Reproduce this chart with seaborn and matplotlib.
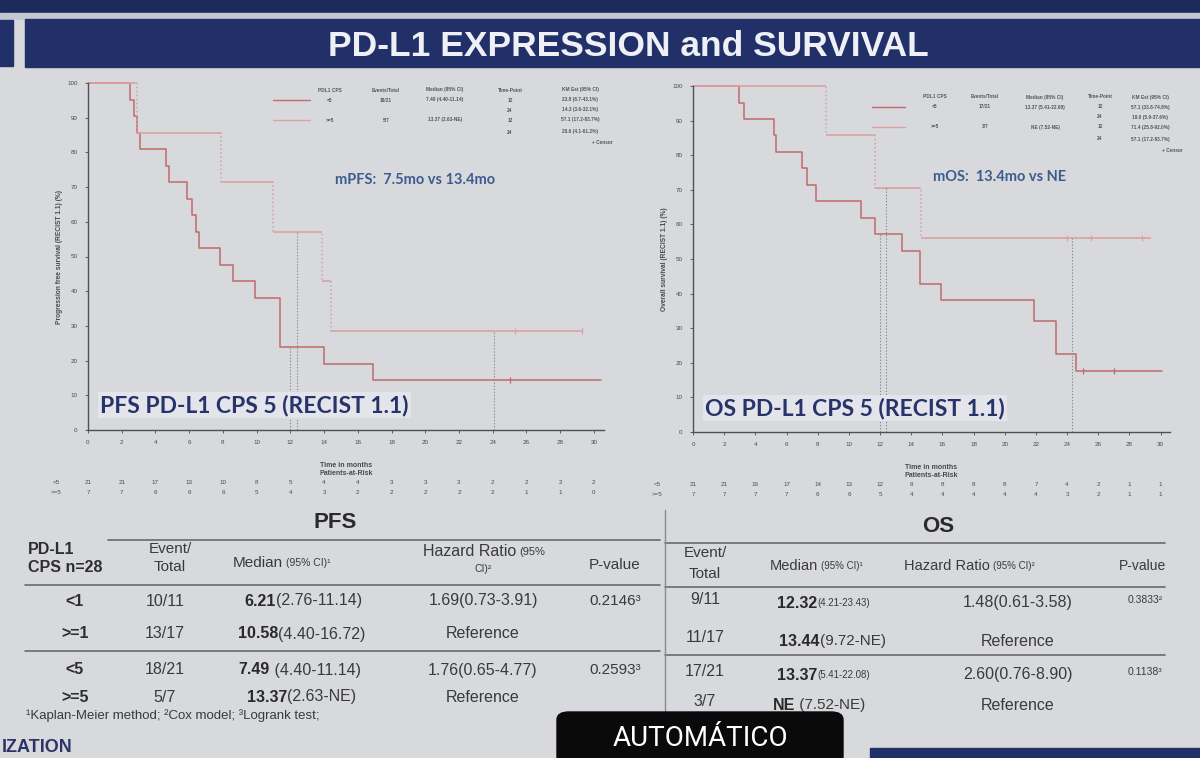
import numpy as np
import pandas as pd
import matplotlib
matplotlib.use("Agg")
import matplotlib.pyplot as plt
import seaborn as sns
from matplotlib.patches import Rectangle, FancyBboxPatch
from matplotlib.transforms import blended_transform_factory

W, H = 1200, 758

# --- Kaplan-Meier curves (months, % surviving) ---
pfs_lt5_t = [0, 2.5, 2.7, 2.9, 3.1, 4.6, 4.8, 5.9, 6.15, 6.4, 6.6, 7.8, 8.6, 9.9, 11.4, 14.0, 16.9, 30.4]
pfs_lt5_s = [100, 95.2, 90.5, 85.7, 80.9, 76.2, 71.4, 66.7, 61.9, 57.1, 52.4, 47.6, 42.9, 38.1, 23.8, 19.0, 14.3, 14.3]
pfs_ge5_t = [0, 2.9, 7.9, 11.0, 13.85, 14.4, 29.3]
pfs_ge5_s = [100, 85.7, 71.4, 57.1, 42.9, 28.6, 28.6]
pfs_lt5_cens = [25.0]
pfs_ge5_cens = [25.3, 29.3]

os_lt5_t = [0, 2.95, 3.3, 5.2, 5.35, 7.0, 7.3, 7.9, 10.8, 11.7, 13.4, 14.55, 15.9, 21.9, 23.3, 24.6, 30.1]
os_lt5_s = [100, 95.2, 90.5, 85.7, 80.9, 76.2, 71.4, 66.7, 61.9, 57.1, 52.4, 42.9, 38.1, 32.0, 22.5, 17.5, 17.5]
os_ge5_t = [0, 8.55, 11.65, 14.6, 29.4]
os_ge5_s = [100, 85.7, 70.5, 56.0, 56.0]
os_lt5_cens = [25.0, 27.0]
os_ge5_cens = [24.0, 25.5, 28.8]

# time-point guide lines (x, top)
pfs_ref_t = [12.0, 12.4, 24.1]
pfs_ref_top = [23.8, 57.1, 28.6]
os_ref_t = [12.0, 12.4, 24.3]
os_ref_top = [57.1, 70.5, 56.0]

# patients at risk
risk_times = list(range(0, 31, 2))
pfs_risk_lt5 = [21, 21, 17, 13, 10, 8, 5, 4, 4, 3, 3, 3, 2, 2, 2, 2]
pfs_risk_ge5 = [7, 7, 6, 6, 6, 5, 4, 3, 2, 2, 2, 2, 2, 1, 1, 0]
os_risk_lt5 = [21, 21, 19, 17, 14, 13, 12, 9, 8, 8, 8, 7, 4, 2, 1, 1]
os_risk_ge5 = [7, 7, 7, 7, 6, 6, 5, 4, 4, 4, 4, 4, 3, 2, 1, 1]

# legend boxes inside the plots
leg_head = ["PDL1 CPS", "Events/Total", "Median (95% CI)", "Time-Point", "KM Est (95% CI)"]
pfs_leg_rows = [["<5", "18/21", "7.49 (4.40-11.14)", "12", "23.8 (8.7-43.1%)"],
                ["", "", "", "24", "14.3 (3.6-32.1%)"],
                [">=5", "5/7", "13.37 (2.63-NE)", "12", "57.1 (17.2-83.7%)"],
                ["", "", "", "24", "28.6 (4.1-61.2%)"]]
os_leg_rows = [["<5", "17/21", "13.37 (5.41-22.08)", "12", "57.1 (33.8-74.8%)"],
               ["", "", "", "24", "19.0 (5.9-37.6%)"],
               [">=5", "3/7", "NE (7.52-NE)", "12", "71.4 (25.8-92.0%)"],
               ["", "", "", "24", "57.1 (17.2-83.7%)"]]

# summary table
groups = ["<1", ">=1", "<5", ">=5"]
pfs_events = ["10/11", "13/17", "18/21", "5/7"]
pfs_med = ["6.21", "10.58", "7.49", "13.37"]
pfs_ci = ["(2.76-11.14)", "(4.40-16.72)", " (4.40-11.14)", "(2.63-NE)"]
pfs_hr = ["1.69(0.73-3.91)", "Reference", "1.76(0.65-4.77)", "Reference"]
pfs_p = ["0.2146³", "", "0.2593³", ""]
os_events = ["9/11", "11/17", "17/21", "3/7"]
os_med = ["12.32", "13.44", "13.37", "NE"]
os_ci = ["(4.21-23.43)", "(9.72-NE)", "(5.41-22.08)", " (7.52-NE)"]
os_hr = ["1.48(0.61-3.58)", "Reference", "2.60(0.76-8.90)", "Reference"]
os_p = ["0.3833²", "", "0.1138³", ""]

# --- style ---
sns.set_style("ticks")
plt.rcParams["font.family"] = ["Liberation Sans", "DejaVu Sans"]

BG = "#d7d9dd"
NAVY = "#22306a"
C_LT5 = "#c06a68"
C_GE5 = "#dca2a0"
TXT = "#3a3a3a"

fig = plt.figure(figsize=(W / 100, H / 100), dpi=100, facecolor=BG)


def fx(x):
    return x / W


def fy(y):
    return 1 - y / H


def ftext(x, y, s, **kw):
    kw.setdefault("color", TXT)
    kw.setdefault("va", "center")
    fig.text(fx(x), fy(y), s, **kw)


# header bands
fig.patches.append(Rectangle((0, fy(13)), 1, 13 / H, transform=fig.transFigure, color="#1d2a5c", zorder=0))
fig.patches.append(Rectangle((0, fy(19)), 1, 6 / H, transform=fig.transFigure, color="#c3c7d0", zorder=0))
fig.patches.append(Rectangle((fx(25), fy(67)), 1, 48 / H, transform=fig.transFigure, color=NAVY, zorder=0))
fig.patches.append(Rectangle((0, fy(66)), fx(13), 46 / H, transform=fig.transFigure, color=NAVY, zorder=0))
ftext(628, 46, "PD-L1 EXPRESSION and SURVIVAL", color="#eef0f5", fontsize=25.5,
      ha="center", fontweight="bold")


def km_panel(rect, curves, ref_t, ref_top, risk, risk_lab_x, ylab, note, note_xy, title, title_xy,
             legend_rows, leg_x, leg_y, leg_cols):
    x0, x1, y0, y1 = rect
    ax = fig.add_axes([fx(x0), fy(y1), (x1 - x0) / W, (y1 - y0) / H])
    ax.set_facecolor("none")
    for t, s, cens, color, dotted in curves:
        df = pd.DataFrame({"t": t, "s": s})
        sns.lineplot(data=df, x="t", y="s", ax=ax, color=color, lw=1.1,
                     drawstyle="steps-post", estimator=None,
                     linestyle=":" if dotted else "-", clip_on=False)
        if dotted:
            ax.hlines(s[:-1], t[:-1], t[1:], color=color, lw=1.1, clip_on=False)
        cdf = pd.DataFrame({"t": cens, "s": [s[-1]] * len(cens)})
        sns.scatterplot(data=cdf, x="t", y="s", ax=ax, marker="|", s=18,
                        color=color, linewidth=0.9, clip_on=False)
    ax.vlines(ref_t, 0, ref_top, color="#8a8a8a", lw=0.8, linestyles=(0, (1.2, 1.6)))
    ax.set_xlim(0, 30.6)
    ax.set_ylim(0, 100)
    ax.set_xticks(risk_times)
    ax.set_yticks(range(0, 101, 10))
    ax.tick_params(labelsize=4.5, colors="#4a4a4a", length=2.5, width=0.6, pad=5)
    for sp in ["top", "right"]:
        ax.spines[sp].set_visible(False)
    for sp in ["left", "bottom"]:
        ax.spines[sp].set_color("#505050")
        ax.spines[sp].set_linewidth(1.0)
    ax.set_xlabel("Time in months\nPatients-at-Risk", fontsize=5, fontweight="bold",
                  color="#4a4a4a", labelpad=12, linespacing=1.2)
    ax.set_ylabel(ylab, fontsize=4.8, fontweight="bold", color="#4a4a4a", labelpad=3)
    tr = blended_transform_factory(ax.transData, ax.transAxes)
    hpx = y1 - y0
    for lab, counts, ypx in risk:
        ya = (y1 - ypx) / hpx
        ax.text(risk_lab_x, ya, lab, transform=tr, fontsize=4.5,
                ha="center", va="center", color="#4a4a4a", clip_on=False)
        for tt, n in zip(risk_times, counts):
            ax.text(tt, ya, str(n), transform=tr, fontsize=4.5,
                    ha="center", va="center", color="#4a4a4a", clip_on=False)
    ftext(note_xy[0], note_xy[1], note, color="#3d5b8e", fontsize=10.5, ha="left",
          family=["Lato", "DejaVu Sans"], fontweight="bold")
    ftext(title_xy[0], title_xy[1], title, color="#27336a", fontsize=16.5, ha="left",
          family=["Lato", "DejaVu Sans"], fontweight="bold",
          bbox=dict(facecolor="#e3e5ea", edgecolor="none", pad=1.5))
    # legend block
    fig.lines.append(plt.Line2D([fx(leg_x[0]), fx(leg_x[1])], [fy(leg_y[1]), fy(leg_y[1])],
                                transform=fig.transFigure, color=C_LT5, lw=1.0))
    fig.lines.append(plt.Line2D([fx(leg_x[0]), fx(leg_x[1])], [fy(leg_y[3]), fy(leg_y[3])],
                                transform=fig.transFigure, color=C_GE5, lw=1.0))
    for cx, h in zip(leg_cols, leg_head):
        ftext(cx, leg_y[0], h, fontsize=3.4, ha="center", color="#555555", fontweight="bold")
    for r, vals in enumerate(legend_rows):
        for cx, v in zip(leg_cols, vals):
            ftext(cx, leg_y[r + 1], v, fontsize=3.4, ha="center", color="#555555", fontweight="bold")
    ftext(leg_cols[-1] + 33, leg_y[5], "+ Censor", fontsize=3.4, ha="right", color="#555555",
          fontweight="bold")
    return ax


km_panel((88, 604, 83, 430),
         [(pfs_lt5_t, pfs_lt5_s, pfs_lt5_cens, C_LT5, False),
          (pfs_ge5_t, pfs_ge5_s, pfs_ge5_cens, C_GE5, True)],
         pfs_ref_t, pfs_ref_top,
         [("<5", pfs_risk_lt5, 482), (">=5", pfs_risk_ge5, 492)], -1.9,
         "Progression free survival (RECIST 1.1) (%)",
         "mPFS:  7.5mo vs 13.4mo", (335, 180),
         "PFS PD-L1 CPS 5 (RECIST 1.1)", (100, 405),
         pfs_leg_rows, (273, 310), [90, 100, 110, 120, 132, 143],
         [330, 386, 445, 510, 580])

km_panel((693, 1170, 86, 432),
         [(os_lt5_t, os_lt5_s, os_lt5_cens, C_LT5, False),
          (os_ge5_t, os_ge5_s, os_ge5_cens, C_GE5, True)],
         os_ref_t, os_ref_top,
         [("<5", os_risk_lt5, 484), (">=5", os_risk_ge5, 494)], -2.3,
         "Overall survival (RECIST 1.1) (%)",
         "mOS:  13.4mo vs NE", (933, 177),
         "OS PD-L1 CPS 5 (RECIST 1.1)", (705, 408),
         os_leg_rows, (872, 905), [97, 107, 117, 127, 139, 150],
         [935, 985, 1045, 1100, 1150])

# --- summary table ---
def hline(x0, x1, y, lw=1.2, color="#6a6a6a"):
    fig.lines.append(plt.Line2D([fx(x0), fx(x1)], [fy(y), fy(y)], transform=fig.transFigure,
                                color=color, lw=lw))


hline(108, 660, 540)
hline(25, 660, 585)
hline(25, 660, 651)
hline(665, 1165, 543)
hline(665, 1165, 587)
hline(665, 1165, 655)
fig.lines.append(plt.Line2D([fx(665), fx(665)], [fy(510), fy(740)], transform=fig.transFigure,
                            color="#8a8a8a", lw=1.0))

ftext(335, 523, "PFS", fontsize=16, fontweight="bold", ha="center", color="#2a2a2a")
ftext(938, 527, "OS", fontsize=16, fontweight="bold", ha="center", color="#2a2a2a")

ftext(28, 549, "PD-L1", fontsize=11.5, fontweight="bold", ha="left", color="#2e2e2e")
ftext(28, 567, "CPS n=28", fontsize=11.5, fontweight="bold", ha="left", color="#2e2e2e")
ftext(170, 549, "Event/", fontsize=11, ha="center")
ftext(170, 567, "Total", fontsize=11, ha="center")
ftext(283, 563, "Median", fontsize=11, ha="right")
ftext(286, 563, "(95% CI)¹", fontsize=7.5, ha="left")
ftext(516, 552, "Hazard Ratio", fontsize=11.5, ha="right")
ftext(519, 552, "(95%", fontsize=8, ha="left")
ftext(483, 569, "CI)²", fontsize=7.5, ha="center")
ftext(615, 565, "P-value", fontsize=11, ha="center")

row_y_pfs = [601, 634, 670, 697]
split_pfs = [276, 278, 270, 287]
for i, y in enumerate(row_y_pfs):
    ftext(75, y, groups[i], fontsize=11.5, fontweight="bold", ha="center", color="#2e2e2e")
    ftext(165, y, pfs_events[i], fontsize=11.5, ha="center")
    ftext(split_pfs[i], y, pfs_med[i], fontsize=11.5, fontweight="bold", ha="right", color="#2a2a2a")
    ftext(split_pfs[i], y, pfs_ci[i], fontsize=11.5, ha="left")
    ftext(483, y, pfs_hr[i], fontsize=11.5, ha="center")
    ftext(615, y, pfs_p[i], fontsize=11, ha="center")
ftext(26, 716, "¹Kaplan-Meier method; ²Cox model; ³Logrank test;", fontsize=9.5, ha="left")

ftext(705, 553, "Event/", fontsize=11, ha="center")
ftext(705, 574, "Total", fontsize=11, ha="center")
ftext(818, 566, "Median", fontsize=10.5, ha="right")
ftext(821, 566, "(95% CI)¹", fontsize=7, ha="left")
ftext(990, 566, "Hazard Ratio", fontsize=10.5, ha="right")
ftext(993, 566, "(95% CI)²", fontsize=7, ha="left")
ftext(1143, 566, "P-value", fontsize=10, ha="center")

row_y_os = [600, 638, 672, 702]
split_os = [817, 820, 817, 795]
ci_size = [7, 11, 7, 11]
for i, y in enumerate(row_y_os):
    ftext(705, y, os_events[i], fontsize=11.5, ha="center")
    ftext(split_os[i], y + 3, os_med[i], fontsize=11.5, fontweight="bold", ha="right", color="#2a2a2a")
    ftext(split_os[i], y + 3, os_ci[i], fontsize=ci_size[i], ha="left")
    ftext(1018, y + 3, os_hr[i], fontsize=11.5, ha="center")
    ftext(1145, y, os_p[i], fontsize=7.5, ha="center")

# --- bottom strip ---
fig.patches.append(Rectangle((fx(870), 0), 1, 10 / H, transform=fig.transFigure, color=NAVY, zorder=0))
ftext(2, 756, "IZATION", fontsize=13, fontweight="bold", ha="left", va="bottom", color="#2a3566")
fig.patches.append(FancyBboxPatch((fx(557), -0.02), fx(286), 0.02 + 46 / H,
                                  boxstyle="round,pad=0,rounding_size=0.01",
                                  transform=fig.transFigure, color="#0a0a0a", zorder=5))
fig.text(fx(700), fy(738), "AUTOMÁTICO", color="white", fontsize=20, ha="center", va="center",
         family=["Roboto", "DejaVu Sans"], zorder=6)

fig.savefig("out.png", dpi=100, facecolor=BG)
